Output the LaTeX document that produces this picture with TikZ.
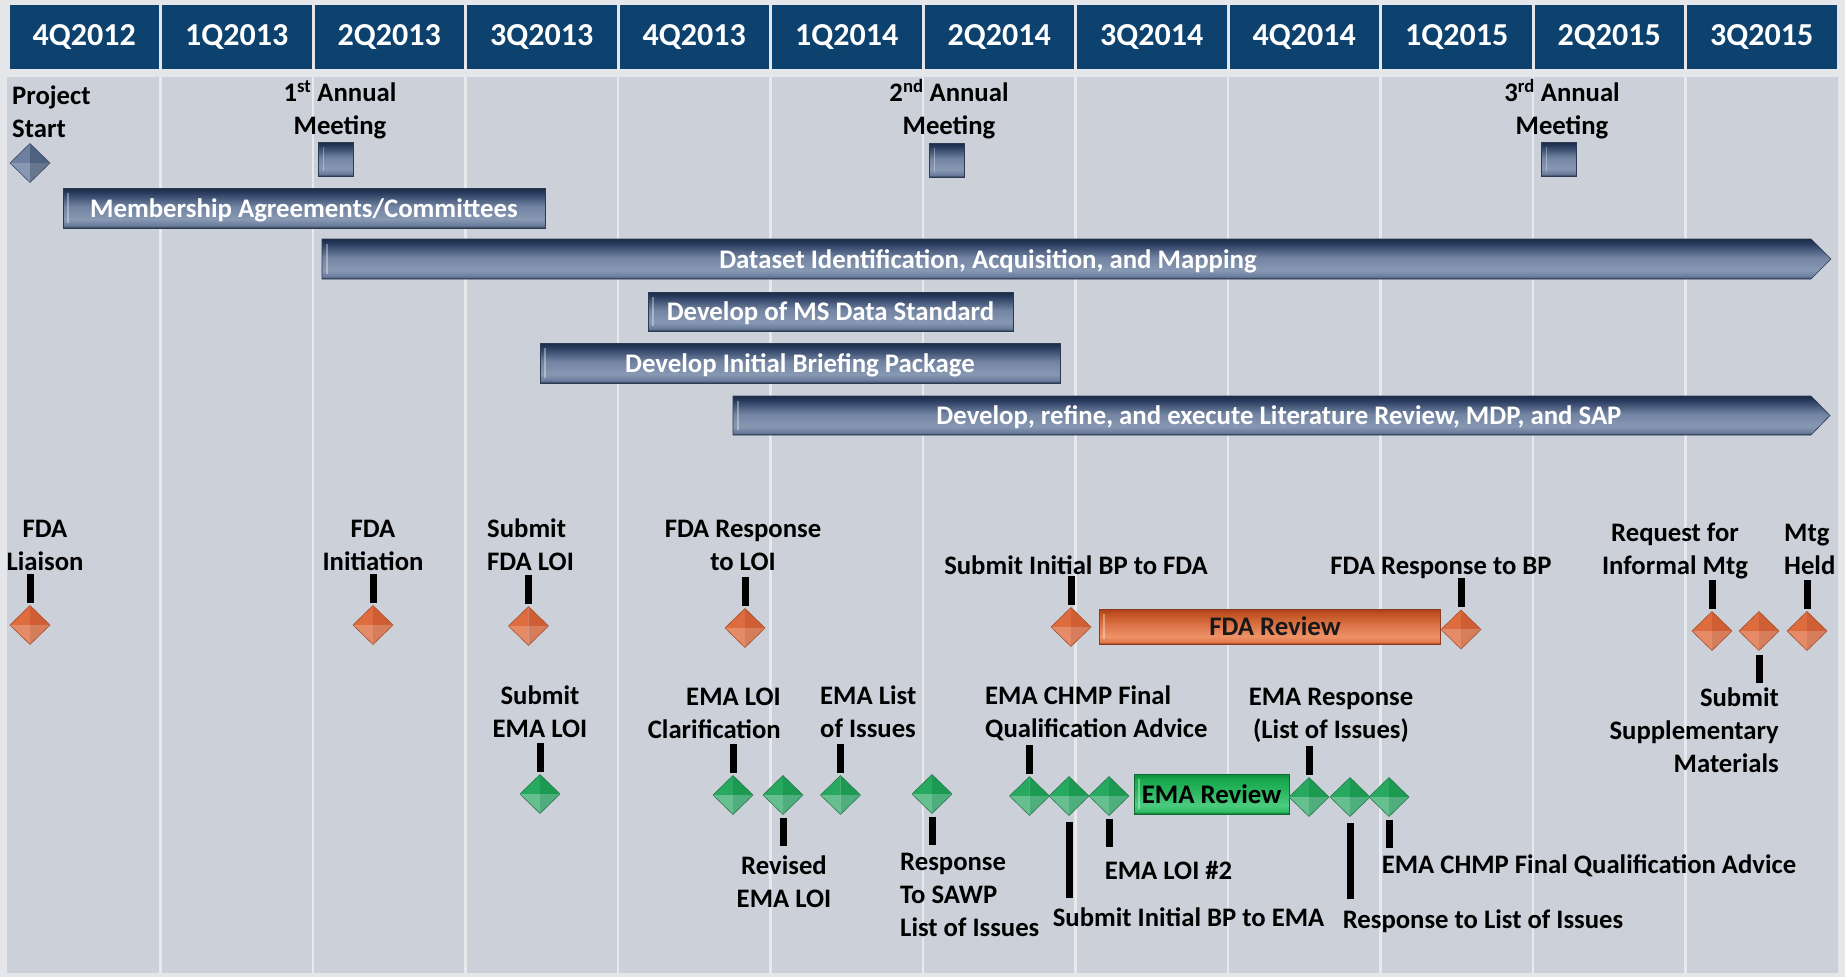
\documentclass[tikz,border=0pt]{standalone}
\usepackage{fontspec}
\setmainfont{Carlito}
\usetikzlibrary{shapes.geometric,calc}
\definecolor{outerbg}{HTML}{E5E6E9}
\definecolor{bodybg}{HTML}{CCD0D8}
\definecolor{gridc}{HTML}{E8E9EC}
\definecolor{hdrblue}{HTML}{0E426E}
% blue bar
\definecolor{bbA}{HTML}{2C3A52}
\definecolor{bbB}{HTML}{6A7C9C}
\definecolor{bbC}{HTML}{8798B3}
\definecolor{bbD}{HTML}{7284A2}
\definecolor{bbE}{HTML}{2A3D60}
\definecolor{bbF}{HTML}{1A2A46}
% orange bar
\definecolor{boA}{HTML}{8A3A1E}
\definecolor{boB}{HTML}{DC7448}
\definecolor{boC}{HTML}{EE9268}
\definecolor{boD}{HTML}{E27A4C}
\definecolor{boE}{HTML}{C0501F}
\definecolor{boF}{HTML}{A8401A}
% green bar
\definecolor{bgA}{HTML}{0E6A2E}
\definecolor{bgB}{HTML}{2DB862}
\definecolor{bgC}{HTML}{4CCB80}
\definecolor{bgD}{HTML}{30BE66}
\definecolor{bgE}{HTML}{17A64C}
\definecolor{bgF}{HTML}{0F8A3A}
% gems
\definecolor{gOUL}{HTML}{DE6C3E}
\definecolor{gOUR}{HTML}{CF5E34}
\definecolor{gOLL}{HTML}{E58B68}
\definecolor{gOLR}{HTML}{D67E5C}
\definecolor{gOln}{HTML}{A4522F}
\definecolor{gGUL}{HTML}{27AA60}
\definecolor{gGUR}{HTML}{1C9A52}
\definecolor{gGLL}{HTML}{66BF8F}
\definecolor{gGLR}{HTML}{4FAE7D}
\definecolor{gGln}{HTML}{2E7A50}
\definecolor{gBUL}{HTML}{6E809F}
\definecolor{gBUR}{HTML}{4F6180}
\definecolor{gBLL}{HTML}{8898B3}
\definecolor{gBLR}{HTML}{66768F}
\definecolor{gBln}{HTML}{3E4D66}
\pgfdeclareverticalshading{barblue}{100bp}{color(0bp)=(bbA); color(25bp)=(bbA); color(28bp)=(bbB); color(36bp)=(bbC); color(52bp)=(bbD); color(69bp)=(bbE); color(75bp)=(bbF); color(100bp)=(bbF)}
\pgfdeclareverticalshading{barorange}{100bp}{color(0bp)=(boA); color(25bp)=(boA); color(28bp)=(boD); color(36bp)=(boC); color(52bp)=(boB); color(69bp)=(boE); color(75bp)=(boF); color(100bp)=(boF)}
\pgfdeclareverticalshading{bargreen}{100bp}{color(0bp)=(bgA); color(25bp)=(bgA); color(28bp)=(bgD); color(36bp)=(bgC); color(52bp)=(bgB); color(69bp)=(bgE); color(75bp)=(bgF); color(100bp)=(bgF)}
\newcommand{\lblfont}{\fontsize{26.7}{33}\selectfont\bfseries}
\newcommand{\barfont}{\fontsize{26.8}{30}\selectfont\bfseries}
\newcommand{\hdrfont}{\fontsize{32}{38}\selectfont\bfseries}
\tikzset{
  hdrcell/.style={rectangle, fill=hdrblue, minimum width=149.5pt, minimum height=64pt, inner sep=0pt, text=white, font=\hdrfont},
  gridline/.style={draw=gridc, line width=2.5pt},
  lbl/.style={font=\lblfont, text=black, inner sep=0pt, align=center},
  bartext/.style={font=\barfont, text=white, inner sep=0pt, text depth=0pt},
  bevel/.style={path picture={\draw[white, opacity=.35, line width=1.5pt] ([xshift=5pt,yshift=-5pt]path picture bounding box.north west) -- ([xshift=5pt,yshift=5pt]path picture bounding box.south west);}},
  bluebar/.style={rectangle, shade, shading=barblue, draw=bbA, line width=0.6pt, inner sep=0pt, text=white, font=\barfont, text depth=0pt, bevel},
  orangebar/.style={rectangle, shade, shading=barorange, draw=boA, line width=0.6pt, inner sep=0pt, text=black!90, font=\barfont, text depth=0pt, bevel},
  greenbar/.style={rectangle, shade, shading=bargreen, draw=bgA, line width=0.8pt, inner sep=0pt, text=black, font=\barfont, text depth=0pt, bevel},
  meetbox/.style={rectangle, minimum width=35pt, minimum height=34pt, inner sep=0pt, shade, shading=barblue, draw=bbA, line width=0.6pt, bevel},
  gem/.style n args={5}{shape=diamond, minimum width=40pt, minimum height=39pt, inner sep=0pt, outer sep=0pt, draw=#5, line width=0.6pt,
    path picture={
      \fill[#1] (path picture bounding box.west) -- (path picture bounding box.north) -- (path picture bounding box.center) -- cycle;
      \fill[#2] (path picture bounding box.north) -- (path picture bounding box.east) -- (path picture bounding box.center) -- cycle;
      \fill[#3] (path picture bounding box.west) -- (path picture bounding box.south) -- (path picture bounding box.center) -- cycle;
      \fill[#4] (path picture bounding box.south) -- (path picture bounding box.east) -- (path picture bounding box.center) -- cycle;
    }},
  orangegem/.style={gem={gOUL}{gOUR}{gOLL}{gOLR}{gOln}},
  greengem/.style={gem={gGUL}{gGUR}{gGLL}{gGLR}{gGln}},
  bluegem/.style={gem={gBUL}{gBUR}{gBLL}{gBLR}{gBln}},
  tickmark/.style={draw=black, line width=7pt},
}
\begin{document}
\begin{tikzpicture}[x=1pt,y=-1pt]
\useasboundingbox (0,0) rectangle (1845,977);
\fill[outerbg] (0,0) rectangle (1845,977);
% body and grid
\fill[bodybg] (7,77) rectangle (1838,973);
\foreach \i in {1,...,11} \draw[gridline] ({8+152.5*\i},77) -- ({8+152.5*\i},973);
% header
\foreach \lab [count=\i from 0] in {4Q2012,1Q2013,2Q2013,3Q2013,4Q2013,1Q2014,2Q2014,3Q2014,4Q2014,1Q2015,2Q2015,3Q2015}
  \node[hdrcell] (h\i) at ({8+152.5*\i+76.25},37) {\lab};

% top milestones
\node[bluegem] (ps) at (30,163) {};
\node[lbl, align=left, anchor=west] (psl) at (12,112) {Project\\Start};
\node[meetbox] (m1) at (336,159) {};
\node[lbl] (m1l) at (340,109.5) {1\textsuperscript{st} Annual\\Meeting};
\node[meetbox] (m2) at (947,160) {};
\node[lbl] (m2l) at (949,109.5) {2\textsuperscript{nd} Annual\\Meeting};
\node[meetbox] (m3) at (1559,159) {};
\node[lbl] (m3l) at (1562,109.5) {3\textsuperscript{rd} Annual\\Meeting};

% bars
\node[bluebar, minimum width=482pt, minimum height=40pt] (b1) at (304,208) {Membership Agreements/Committees};
\shade[shading=barblue, draw=bbA, line width=0.6pt] (322,239) -- (1811,239) -- (1831,259) -- (1811,279) -- (322,279) -- cycle;
\draw[white, opacity=.35, line width=1.5pt] (327,244) -- (327,274);
\node[bartext] (b2) at (988,259) {Dataset Identification, Acquisition, and Mapping};
\node[bluebar, minimum width=365pt, minimum height=39pt] (b3) at (830.5,311.5) {Develop of MS Data Standard};
\node[bluebar, minimum width=520pt, minimum height=40pt] (b4) at (800,363) {Develop Initial Briefing Package};
\shade[shading=barblue, draw=bbA, line width=0.6pt] (733,396) -- (1811,396) -- (1830,415.5) -- (1811,435) -- (733,435) -- cycle;
\draw[white, opacity=.35, line width=1.5pt] (738,401) -- (738,430);
\node[bartext] (b5) at (1279,415.5) {Develop, refine, and execute Literature Review, MDP, and SAP};

% FDA row
\node[orangegem] (d1) at (30,625) {};
\node[lbl] (d1l) at (45,545) {FDA\\Liaison};
\node[orangegem] (d2) at (373,625) {};
\node[lbl] (d2l) at (373,545) {FDA\\Initiation};
\node[orangegem] (d3) at (528.5,626) {};
\node[lbl, align=left, anchor=west] (d3l) at (487,545) {Submit\\FDA LOI};
\node[orangegem] (d4) at (745,628) {};
\node[lbl] (d4l) at (743,545) {FDA Response\\to LOI};
\node[orangegem] (d5) at (1071,627) {};
\node[lbl] (d5l) at (1076,565) {Submit Initial BP to FDA};
\node[orangebar, minimum width=341pt, minimum height=35pt] (fr) at (1269.5,626.5) {\hspace*{11pt}FDA Review};
\node[orangegem] (d6) at (1461,629.5) {};
\node[lbl] (d6l) at (1441,568) {FDA Response to BP};
\node[orangegem] (d7) at (1712,631) {};
\node[lbl] (d7l) at (1675,551) {Request for\\Informal Mtg};
\node[orangegem] (d8) at (1759,631) {};
\node[lbl, align=right, anchor=east] (d8l) at (1779,730) {Submit\\Supplementary\\Materials};
\node[orangegem] (d9) at (1807,631) {};
\node[lbl, align=left, anchor=west] (d9l) at (1784,549) {Mtg\\Held};

\foreach \d in {d1,d2,d3,d4,d5,d6,d7,d9}
  \draw[tickmark] ($(\d.north)+(0,-3)$) -- ++(0,-29);
\draw[tickmark] ($(d8.south)+(0,4)$) -- ++(0,28);

% EMA row
\node[greengem] (e1) at (540,794) {};
\node[lbl] (e1l) at (540,712) {Submit\\EMA LOI};
\node[greengem] (e2) at (733,795) {};
\node[lbl, align=right, anchor=east] (e2l) at (781,713) {EMA LOI\\Clarification};
\node[greengem] (e3) at (783,795) {};
\node[lbl] (e3l) at (784,882) {Revised\\EMA LOI};
\node[greengem] (e4) at (840.5,795) {};
\node[lbl, align=left, anchor=west] (e4l) at (820,712) {EMA List\\of Issues};
\node[greengem] (e5) at (932,794) {};
\node[lbl, align=left, anchor=west] (e5l) at (900,894.5) {Response\\To SAWP\\List of Issues};
\node[greengem] (e6) at (1029.5,796) {};
\node[lbl, align=left, anchor=west] (e6l) at (985,713) {EMA CHMP Final\\Qualification Advice};
\node[greengem] (e7) at (1069,796) {};
\node[lbl] (e7l) at (1188.5,917) {Submit Initial BP to EMA};
\node[greengem] (e8) at (1109,796) {};
\node[lbl] (e8l) at (1168.5,870) {EMA LOI \#2};
\node[greenbar, minimum width=155pt, minimum height=40pt] (er) at (1211.5,794) {EMA Review};
\node[greengem] (e9) at (1309,797) {};
\node[lbl] (e9l) at (1331,715) {EMA Response\\(List of Issues)};
\node[greengem] (e10) at (1350,797) {};
\node[lbl] (e10l) at (1483,921) {Response to List of Issues};
\node[greengem] (e11) at (1389,797) {};
\node[lbl] (e11l) at (1589,866) {EMA CHMP Final Qualification Advice};

\foreach \d in {e1,e2,e4,e6,e9}
  \draw[tickmark] ($(\d.north)+(0,-3)$) -- ++(0,-29);
\foreach \d in {e3,e5,e8,e11}
  \draw[tickmark] ($(\d.south)+(0,3)$) -- ++(0,28);
\foreach \d in {e7,e10}
  \draw[tickmark] ($(\d.south)+(0,6)$) -- ++(0,76);
\end{tikzpicture}
\end{document}
